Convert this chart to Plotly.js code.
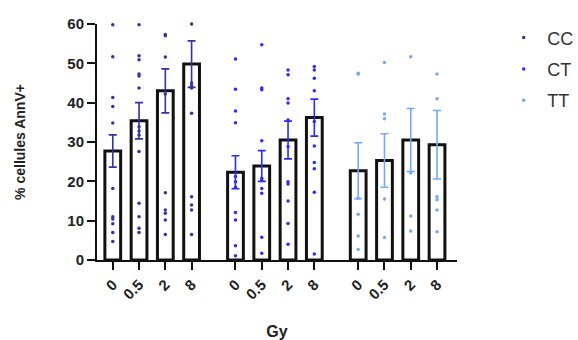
<!DOCTYPE html>
<html><head><meta charset="utf-8">
<script src="https://cdn.plot.ly/plotly-3.0.1.min.js"></script>
<style>html,body{margin:0;padding:0;background:#fff}#c{width:578px;height:340px}</style>
</head><body><div id="c"></div>
<script>
const groups = ["CC", "CT", "TT"];
const doses = ["0", "0.5", "2", "8"];
const colors = ["#3034a8", "#2b2bff", "#72a9f7"];
const means = {
  CC: [27.7, 35.4, 43.0, 49.8],
  CT: [22.3, 23.9, 30.5, 36.2],
  TT: [22.7, 25.3, 30.5, 29.3]
};
const sem = {
  CC: [4.1, 4.6, 5.6, 5.9],
  CT: [4.2, 3.9, 4.8, 4.7],
  TT: [7.1, 6.8, 8.0, 8.7]
};
const points = {
  CC: [
    [59.8, 51.7, 41.3, 39.0, 34.8, 18.2, 11.0, 10.4, 9.2, 7.0, 4.7],
    [59.8, 51.9, 50.9, 47.3, 46.8, 43.7, 33.9, 32.8, 31.8, 27.6, 14.4, 11.0, 8.1, 7.0],
    [57.3, 57.0, 51.6, 42.2, 17.1, 12.7, 11.9, 10.2, 6.5],
    [60.0, 45.0, 44.3, 43.7, 37.3, 16.1, 14.0, 12.7, 6.5]
  ],
  CT: [
    [51.1, 43.4, 37.9, 34.9, 21.2, 19.9, 18.5, 12.1, 10.2, 3.6, 1.1],
    [54.7, 43.7, 43.3, 30.3, 20.8, 20.2, 18.2, 17.0, 5.8, 1.7],
    [48.3, 47.1, 41.0, 39.9, 35.6, 28.8, 19.9, 19.3, 15.0, 9.3, 4.0],
    [49.2, 48.3, 46.2, 43.0, 35.2, 29.0, 24.8, 23.2, 17.2, 1.5]
  ],
  TT: [
    [47.5, 47.3, 15.7, 11.6, 6.1, 2.7],
    [50.2, 37.1, 35.9, 15.5, 5.7],
    [51.7, 22.1, 11.2, 7.4],
    [47.3, 41.0, 16.1, 15.3, 12.7, 7.2]
  ]
};

const groupGap = 4.67;
const traces = [];
const tickvals = [], ticktext = [];
groups.forEach((g, gi) => {
  const xs = doses.map((d, di) => gi * groupGap + di);
  xs.forEach((x, di) => { tickvals.push(x); ticktext.push(doses[di]); });
  traces.push({
    type: "bar", x: xs, y: means[g], width: 0.6, showlegend: false,
    marker: {color: "rgba(255,255,255,0)", line: {color: "#111", width: 3}},
    error_y: {type: "data", array: sem[g], visible: true, color: colors[gi], thickness: 1.6, width: 4},
    hoverinfo: "skip"
  });
});
groups.forEach((g, gi) => {
  const px = [], py = [];
  points[g].forEach((arr, di) => {
    arr.forEach(v => { px.push(gi * groupGap + di); py.push(v); });
  });
  traces.push({
    type: "scatter", mode: "markers", x: px, y: py, name: g, legendgroup: g,
    cliponaxis: false,
    marker: {color: colors[gi], size: 3.5}
  });
});

const layout = {
  width: 578, height: 340,
  margin: {l: 97, r: 121, t: 24, b: 80, autoexpand: false},
  paper_bgcolor: "#fff", plot_bgcolor: "#fff",
  barmode: "overlay",
  font: {family: "Liberation Sans, Arial, sans-serif", color: "#222"},
  xaxis: {
    range: [-0.6, 13.1], tickmode: "array", tickvals: tickvals, ticktext: ticktext,
    tickangle: -45, showgrid: false, zeroline: false, showline: true,
    linecolor: "#111", linewidth: 2, ticks: "outside", ticklen: 8, tickwidth: 2, tickcolor: "#111",
    tickfont: {size: 15, color: "#222", weight: "bold"},
    title: {text: "<b>Gy</b>", font: {size: 16, color: "#222"}, standoff: 24}
  },
  yaxis: {
    range: [0, 60], tickvals: [0, 10, 20, 30, 40, 50, 60], showgrid: false, zeroline: false,
    showline: true, linecolor: "#111", linewidth: 2, ticks: "outside", ticklen: 8, tickwidth: 2, tickcolor: "#111",
    tickfont: {size: 15, color: "#222", weight: "bold"},
    title: {text: "<b>% cellules AnnV+</b>", font: {size: 14, color: "#222"}, standoff: 38}
  },
  legend: {
    x: 1.12, y: 1.02, xanchor: "left", yanchor: "top",
    font: {size: 18, color: "#333"}, traceorder: "grouped", tracegroupgap: 5,
    bgcolor: "rgba(0,0,0,0)", itemwidth: 37
  }
};
Plotly.newPlot("c", traces, layout, {displayModeBar: false, staticPlot: true});
</script></body></html>
